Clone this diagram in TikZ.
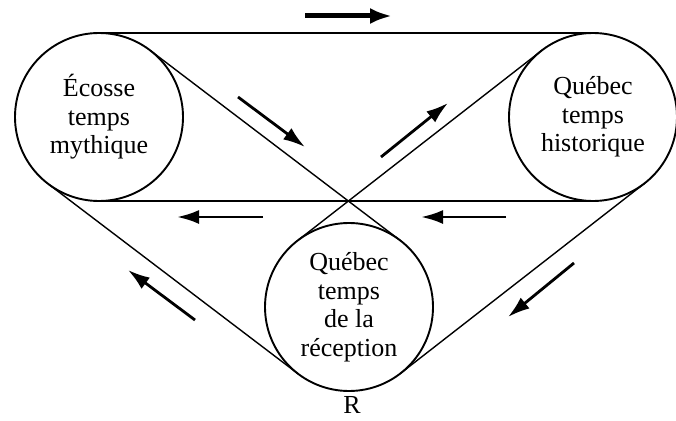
\documentclass[tikz,border=0pt]{standalone}
\usepackage{fontspec}
\setmainfont{Liberation Serif}
\usetikzlibrary{arrows.meta}

\begin{document}
\begin{tikzpicture}[x=1pt, y=-1pt, line width=1.4pt,
    font=\fontsize{26}{28.5}\selectfont,
    wheel/.style={draw, circle, line width=1.9pt, minimum size=168pt,
                  inner sep=0pt, outer sep=0pt, align=center},
    flow/.style={-{Latex[length=22pt,width=14pt]}, line width=2.8pt},
    bigflow/.style={-{Latex[length=22pt,width=16pt]}, line width=5pt}]
    \useasboundingbox (0,0) rectangle (676,420);

    \node[wheel] (ecosse) at (99,117)  {Écosse\\temps\\mythique};
    \node[wheel] (quebec) at (593,117) {Québec\\temps\\historique};
    \node[wheel] (recept) at (349,307) {Québec\\temps\\de la\\réception};
    \node (rlabel) at (352,405) {R};

    % belts
    \draw (ecosse.north) -- (quebec.north);
    \draw (ecosse.south) -- (quebec.south);
    \draw (ecosse.52.8) -- (recept.52.8);
    \draw (recept.127.9) -- (quebec.127.9);
    \draw (ecosse.-127.2) -- (recept.-127.2);
    \draw (quebec.-52.1) -- (recept.-52.1);

    % direction of motion
    \draw[bigflow] (305,16) -- (392,16);
    \draw[flow] (238,97) -- (305,147);
    \draw[flow] (381,157) -- (448,103);
    \draw[flow] (263,217) -- (177,217);
    \draw[flow] (506,217) -- (421,217);
    \draw[flow] (195,320) -- (128,270);
    \draw[flow] (574,263) -- (508,317);
\end{tikzpicture}
\end{document}
